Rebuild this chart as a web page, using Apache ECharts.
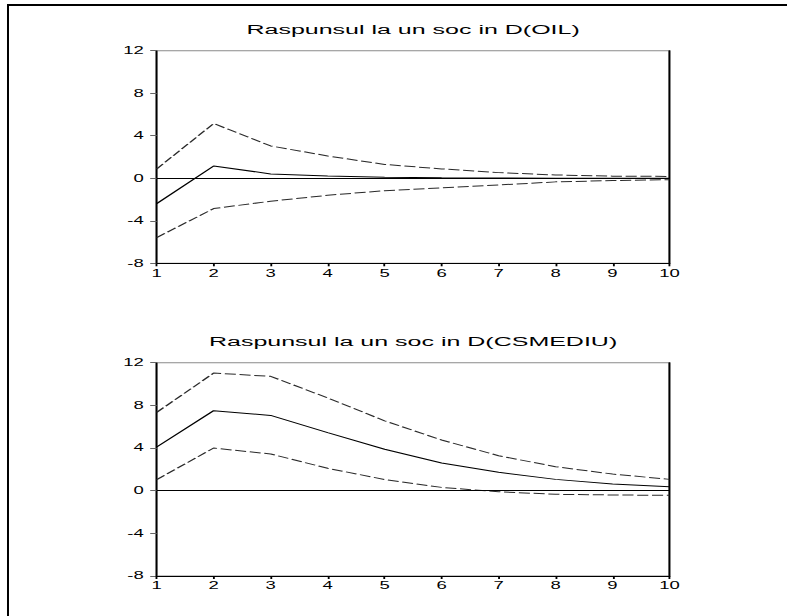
<!DOCTYPE html>
<html>
<head>
<meta charset="utf-8">
<script src="https://cdn.jsdelivr.net/npm/echarts@6/dist/echarts.min.js"></script>
<style>
  html, body { margin: 0; padding: 0; background: #fff; overflow: hidden; }
  /* the graph is laid out in a narrow box and stretched to the page width */
  #chart { width: 425px; height: 616px; transform: scaleX(1.851765); transform-origin: 0 0; }
</style>
</head>
<body>
<div id="chart"></div>
<script>
// periods after the shock
const horizon = ['1', '2', '3', '4', '5', '6', '7', '8', '9', '10'];
// value-axis tick labels
const yTicks = [-8, -4, 0, 4, 8, 12];

// response to a shock in D(OIL): point estimate and +/- 2 s.e. bands
const oilTitle = 'Raspunsul la un soc in D(OIL)';
const oilResponse = [-2.38, 1.15, 0.41, 0.22, 0.10, 0.05, 0.02, 0.01, 0.00, 0.00];
const oilUpper    = [0.88, 5.15, 3.04, 2.10, 1.30, 0.88, 0.53, 0.31, 0.20, 0.17];
const oilLower    = [-5.58, -2.85, -2.16, -1.60, -1.17, -0.90, -0.63, -0.34, -0.22, -0.13];

// response to a shock in D(CSMEDIU)
const csTitle = 'Raspunsul la un soc in D(CSMEDIU)';
const csResponse = [4.10, 7.50, 7.06, 5.44, 3.88, 2.60, 1.72, 1.06, 0.63, 0.38];
const csUpper    = [7.34, 11.03, 10.72, 8.70, 6.55, 4.75, 3.28, 2.25, 1.56, 1.06];
const csLower    = [1.03, 4.00, 3.44, 2.10, 1.05, 0.31, -0.10, -0.34, -0.40, -0.44];

const S = 787 / 425;            // horizontal stretch of the page
const px = v => v / S;          // page x -> layout x
const FONT = 'Liberation Sans, Arial, Helvetica, sans-serif';

const panels = [
  { title: oilTitle, mid: oilResponse, up: oilUpper, lo: oilLower, top: 50.7, height: 212.6, titleTop: 22 },
  { title: csTitle,  mid: csResponse,  up: csUpper,  lo: csLower,  top: 362.7, height: 213.3, titleTop: 334 }
];

const gridLeft = px(156.7);
const gridWidth = px(512.8);

const option = {
  animation: false,
  backgroundColor: '#fff',
  title: panels.map(p => ({
    text: p.title,
    left: gridLeft + gridWidth / 2,
    top: p.titleTop,
    textAlign: 'center',
    padding: 0,
    textStyle: { fontFamily: FONT, fontSize: 13.5, fontWeight: 'normal', color: '#000' }
  })),
  grid: panels.map(p => ({
    left: gridLeft, width: gridWidth, top: p.top, height: p.height,
    show: true, borderColor: '#8a8a8a', borderWidth: 1, backgroundColor: 'transparent',
    containLabel: false
  })),
  xAxis: panels.map((p, i) => ({
    type: 'category', gridIndex: i, data: horizon, boundaryGap: false,
    axisLine: { onZero: false, lineStyle: { color: '#000', width: 1 } },
    axisTick: { show: true, length: 3, alignWithLabel: true, lineStyle: { color: '#000', width: 1 } },
    axisLabel: { interval: 0, margin: 5, color: '#000', fontFamily: FONT, fontSize: 10 },
    splitLine: { show: false }
  })),
  yAxis: [].concat(...panels.map((p, i) => [
    {
      type: 'value', gridIndex: i, position: 'left',
      min: yTicks[0], max: yTicks[yTicks.length - 1], interval: yTicks[1] - yTicks[0],
      axisLine: { show: true, lineStyle: { color: '#000', width: 1 } },
      axisTick: { show: true, length: 3.5, lineStyle: { color: '#666', width: 1 } },
      axisLabel: { margin: 7, color: '#000', fontFamily: FONT, fontSize: 10 },
      splitLine: { show: false }
    },
    {
      type: 'value', gridIndex: i, position: 'right',
      min: yTicks[0], max: yTicks[yTicks.length - 1], interval: yTicks[1] - yTicks[0],
      axisLine: { show: true, lineStyle: { color: '#000', width: 1 } },
      axisTick: { show: false }, axisLabel: { show: false }, splitLine: { show: false }
    }
  ])),
  series: [].concat(...panels.map((p, i) => [
    {
      type: 'line', xAxisIndex: i, yAxisIndex: i * 2, data: p.up,
      symbol: 'none', silent: true,
      lineStyle: { color: '#2a2a2a', width: 1, type: [6, 2] }
    },
    {
      type: 'line', xAxisIndex: i, yAxisIndex: i * 2, data: p.mid,
      symbol: 'none', silent: true,
      lineStyle: { color: '#000', width: 1, type: 'solid' },
      markLine: {
        silent: true, symbol: ['none', 'none'], label: { show: false },
        lineStyle: { color: '#000', width: 1, type: 'solid' },
        data: [{ yAxis: 0 }]
      }
    },
    {
      type: 'line', xAxisIndex: i, yAxisIndex: i * 2, data: p.lo,
      symbol: 'none', silent: true,
      lineStyle: { color: '#2a2a2a', width: 1, type: [6, 2] }
    }
  ])),
  graphic: [
    // outer frame: top and left edges
    { type: 'line', silent: true, shape: { x1: px(7), y1: 5, x2: 425, y2: 5 },
      style: { stroke: '#000', lineWidth: 2 } },
    { type: 'line', silent: true, shape: { x1: px(8), y1: 4, x2: px(8), y2: 616 },
      style: { stroke: '#000', lineWidth: 2 / S } }
  ]
};

const chart = echarts.init(document.getElementById('chart'), null, { renderer: 'svg' });
chart.setOption(option);
</script>
</body>
</html>
